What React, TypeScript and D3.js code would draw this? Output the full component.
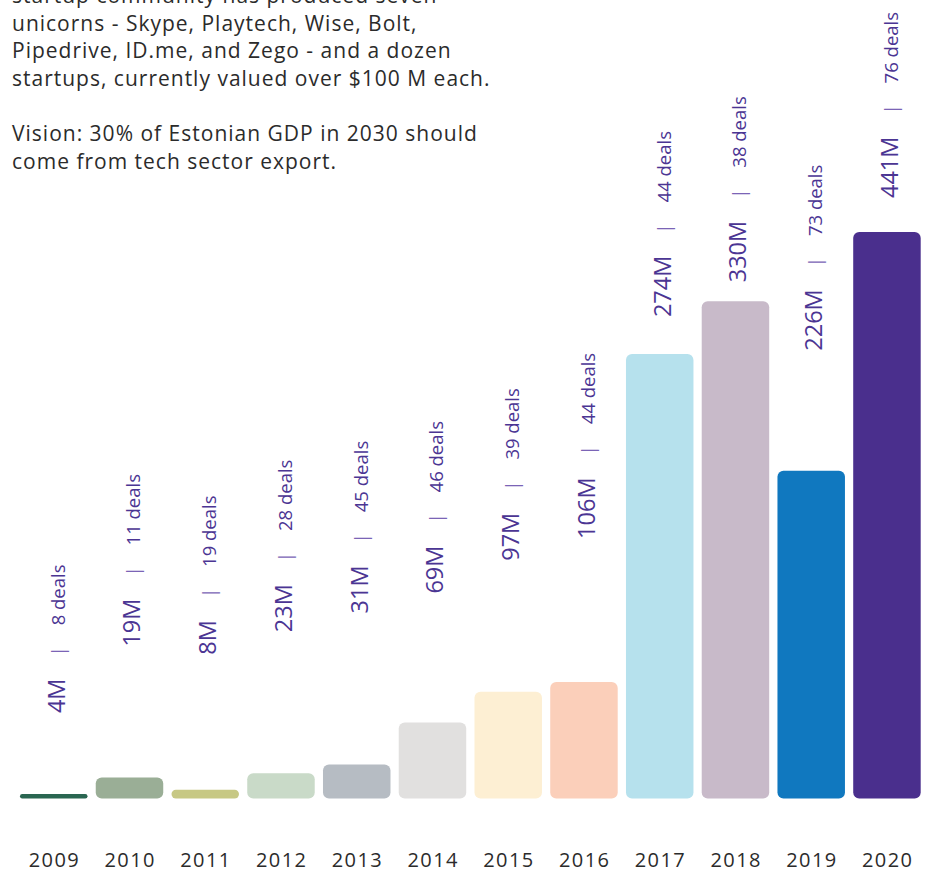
import * as d3 from "d3";

// Values as shown on the chart (millions of euros invested, number of deals)
const YEARS = ["2009", "2010", "2011", "2012", "2013", "2014", "2015", "2016", "2017", "2018", "2019", "2020"];
const AMOUNTS = [4, 19, 8, 23, 31, 69, 97, 106, 274, 330, 226, 441];
const DEALS = [8, 11, 19, 28, 45, 46, 39, 44, 44, 38, 73, 76];
// Bar lengths as drawn in the source (the later bars are not to scale with the labels)
const BAR_LENGTHS = [4, 19, 8, 23, 31, 69, 97, 106, 404, 452, 298, 515];

const INTRO_LINES = [
  "startup community has produced seven",
  "unicorns - Skype, Playtech, Wise, Bolt,",
  "Pipedrive, ID.me, and Zego - and a dozen",
  "startups, currently valued over $100 M each.",
  "",
  "Vision: 30% of Estonian GDP in 2030 should",
  "come from tech sector export.",
];

const COLORS = [
  "#2a6651", "#9aae96", "#c7c884", "#c9dac8", "#b6bcc3", "#e1e0df",
  "#fdefd3", "#fbcfba", "#b6e1ed", "#c8bac9", "#1078bf", "#4a2f8d",
];
// distance from the bar top to where each label starts
const LABEL_GAP = [81, 131, 135, 141, 151, 129, 131, 143, 37, 19, 120, 34];

const WIDTH = 925;
const HEIGHT = 873;
const BASELINE = 798.5;
const FONT = "'Open Sans', 'Noto Sans', sans-serif";

export default function App() {
  const x = d3.scaleBand<string>().domain(YEARS).range([20, 920.7]).paddingInner(0.109).paddingOuter(0);
  const y = d3.scaleLinear().domain([0, 515]).range([BASELINE, BASELINE - 566.5]);

  return (
    <>
      <style>{`body{margin:0}`}</style>
      <svg width={WIDTH} height={HEIGHT} style={{ display: "block" }} fontFamily={FONT}>
        <g fill="#2b2b2b" fontSize={21} letterSpacing={1}>
          {INTRO_LINES.map((line, i) => (
            <text key={i} x={12} y={3 + i * 27.6}>
              {line}
            </text>
          ))}
        </g>

        {YEARS.map((year, i) => {
          const top = y(BAR_LENGTHS[i]);
          const h = BASELINE - top;
          return (
            <rect
              key={year}
              x={x(year)}
              y={top}
              width={x.bandwidth()}
              height={h}
              rx={Math.min(6, h / 2)}
              fill={COLORS[i]}
            />
          );
        })}

        {YEARS.map((year, i) => {
          const cx = (x(year) ?? 0) + x.bandwidth() / 2;
          const ty = y(BAR_LENGTHS[i]) - LABEL_GAP[i];
          return (
            <text
              key={`l-${year}`}
              transform={`translate(${cx + 11}, ${ty}) rotate(-90)`}
              fill="#4b3593"
              fontSize={18.5}
            >
              <tspan fontSize={23.5}>{AMOUNTS[i]}M</tspan>
              <tspan dx={22} fill="#7b64b6">|</tspan>
              <tspan dx={21}>{DEALS[i]} deals</tspan>
            </text>
          );
        })}

        <g fill="#2b2b2b" fontSize={20} textAnchor="middle" letterSpacing={1.4}>
          {YEARS.map((year) => (
            <text key={`y-${year}`} x={(x(year) ?? 0) + x.bandwidth() / 2 + 0.7} y={867}>
              {year}
            </text>
          ))}
        </g>
      </svg>
    </>
  );
}
